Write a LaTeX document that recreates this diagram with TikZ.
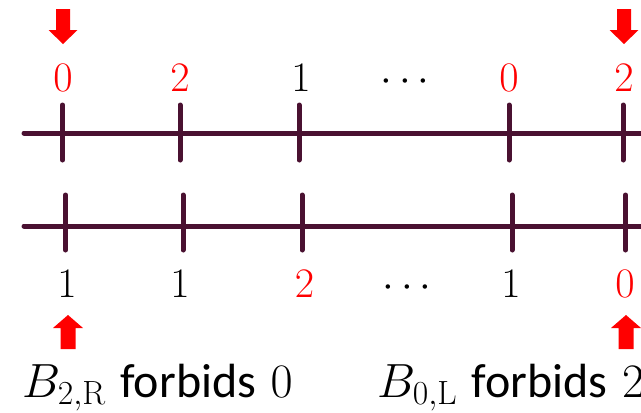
\RequirePackage{fix-cm}
\documentclass[tikz,border=0pt]{standalone}
\usepackage{fontspec}
\newfontfamily\carlito{Carlito}
\definecolor{barc}{RGB}{74,17,49}
\definecolor{hl}{RGB}{255,0,0}
\tikzset{
  barline/.style={draw=barc, line width=5pt, line cap=round},
  num/.style={inner sep=0pt, anchor=base, font=\fontsize{42}{50}\selectfont},
  lab/.style={inner sep=0pt, anchor=base west, font=\fontsize{48}{56}\selectfont},
  redarrow/.style={fill=hl, draw=none}
}
\begin{document}
\begin{tikzpicture}[x=1pt, y=-1pt]
\useasboundingbox (0,0) rectangle (641,413);
\clip (0,0) rectangle (641,413);
% top line
\coordinate (ta) at (24,133);
\coordinate (tb) at (660,133);
\draw[barline] (ta) -- (tb);
\foreach \x [count=\i] in {62.5,180,299,509,623}{
  \coordinate (tt\i) at (\x,105);
  \coordinate (tu\i) at (\x,160);
  \draw[barline] (tt\i) -- (tu\i);
}
% bottom line
\coordinate (ba) at (24,226);
\coordinate (bb) at (660,226);
\draw[barline] (ba) -- (bb);
\foreach \x [count=\i] in {65.5,183,302,512,625.5}{
  \coordinate (bt\i) at (\x,195);
  \coordinate (bu\i) at (\x,250);
  \draw[barline] (bt\i) -- (bu\i);
}
% top numbers
\node[num, text=hl] (n1) at (63,91) {$0$};
\node[num, text=hl] (n2) at (180,91) {$2$};
\node[num] (n3) at (301,91) {$1$};
\node[num] (n4) at (405,91) {$\cdots$};
\node[num, text=hl] (n5) at (509,91) {$0$};
\node[num, text=hl] (n6) at (624,91) {$2$};
% bottom numbers
\node[num] (m1) at (67,297) {$1$};
\node[num] (m2) at (180,297) {$1$};
\node[num, text=hl] (m3) at (304.5,297) {$2$};
\node[num] (m4) at (407,297) {$\cdots$};
\node[num] (m5) at (511,297) {$1$};
\node[num, text=hl] (m6) at (625,297) {$0$};
% top arrows (down)
\foreach \c in {63,624}{
  \fill[redarrow] (\c-7,9) -- (\c+7,9) -- (\c+7,30) -- (\c+14.5,30) -- (\c,44) -- (\c-14.5,30) -- (\c-7,30) -- cycle;
}
% bottom arrows (up)
\foreach \c in {68,626}{
  \fill[redarrow] (\c-7.5,349) -- (\c+7.5,349) -- (\c+7.5,328) -- (\c+15,328) -- (\c,315) -- (\c-15,328) -- (\c-7.5,328) -- cycle;
}
% labels
\node[lab] (l1) at (22,397) {$B_{2,\mathrm{R}}$ {\carlito forbids} $0$};
\node[lab] (l2) at (377,397) {$B_{0,\mathrm{L}}$ {\carlito forbids} $2$};
\end{tikzpicture}
\end{document}
